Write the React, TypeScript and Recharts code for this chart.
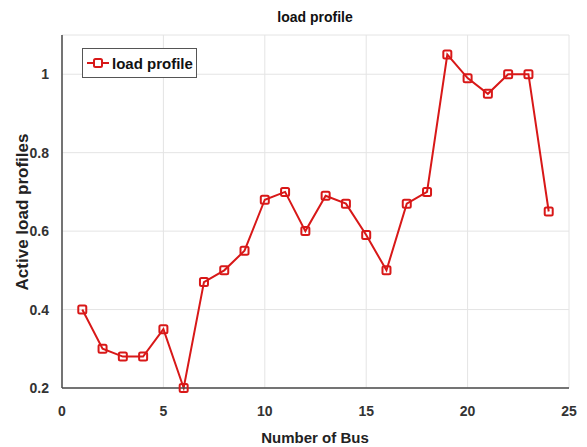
import { LineChart, Line, XAxis, YAxis, CartesianGrid, Legend } from 'recharts'

const buses = [1, 2, 3, 4, 5, 6, 7, 8, 9, 10, 11, 12, 13, 14, 15, 16, 17, 18, 19, 20, 21, 22, 23, 24]
const loadProfile = [0.4, 0.3, 0.28, 0.28, 0.35, 0.2, 0.47, 0.5, 0.55, 0.68, 0.7, 0.6, 0.69, 0.67, 0.59, 0.5, 0.67, 0.7, 1.05, 0.99, 0.95, 1.0, 1.0, 0.65]
const xTicks = [0, 5, 10, 15, 20, 25]
const yTicks = [0.2, 0.4, 0.6, 0.8, 1]

const data = buses.map((bus, i) => ({ bus, load: loadProfile[i] }))

const FONT = '"Liberation Sans", Arial, sans-serif'
const RED = '#d81818'
const AXIS = '#4a4a4a'
const labelStyle = { fontFamily: FONT, fontWeight: 'bold' as const, fill: '#222' }

// hollow square marker like matlab 's'
function SquareDot(props: any) {
  const { cx, cy } = props
  if (cx == null || cy == null) return null
  return <rect x={cx - 4} y={cy - 4} width={8} height={8} rx={1.5} fill="none" stroke={RED} strokeWidth={2} />
}

function LegendBox() {
  return (
    <svg style={{ position: 'absolute', left: 82, top: 48 }} width={118} height={31}>
      <rect x={0.5} y={0.5} width={114} height={29} fill="white" stroke="#555" />
      <line x1={5} y1={15} x2={27} y2={15} stroke={RED} strokeWidth={2} />
      <rect x={12} y={11} width={8} height={8} rx={1.5} fill="white" stroke={RED} strokeWidth={2} />
      <text x={30} y={20.5} style={{ ...labelStyle, fontSize: 15, fill: '#111' }}>
        load profile
      </text>
    </svg>
  )
}

export default function App() {
  const tick = { fontSize: 14, fontWeight: 'bold', fill: '#333', fontFamily: FONT }
  return (
    <div style={{ position: 'absolute', left: 0, top: 0, width: 587, height: 447, background: 'white' }}>
      <svg style={{ position: 'absolute', left: 0, top: 0 }} width={587} height={35}>
        <text x={315} y={22} textAnchor="middle" style={{ ...labelStyle, fontSize: 14, fill: '#111' }}>
          load profile
        </text>
      </svg>
      <LineChart width={587} height={447} data={data} margin={{ top: 35, right: 18, left: 0, bottom: 0 }}>
        <CartesianGrid stroke="#e4e4e4" />
        <XAxis
          dataKey="bus" type="number" domain={[0, 25]} ticks={xTicks}
          height={59} stroke={AXIS} strokeWidth={1.5} tickLine={false} tickMargin={12} tick={tick}
          label={{
            content: () => (
              <text x={315} y={443} textAnchor="middle" style={{ ...labelStyle, fontSize: 15 }}>
                Number of Bus
              </text>
            ),
          }}
        />
        <XAxis xAxisId="top" orientation="top" dataKey="bus" type="number" domain={[0, 25]} ticks={xTicks}
          height={0} stroke={AXIS} strokeWidth={1.5} tick={false} tickLine={false} />
        <YAxis
          type="number" domain={[0.2, 1.1]} ticks={yTicks}
          width={62} stroke={AXIS} strokeWidth={1.5} tickLine={false} tickMargin={7} tick={tick}
          label={{
            content: () => (
              <text x={0} y={0} transform="translate(28 212) rotate(-90)" textAnchor="middle"
                style={{ ...labelStyle, fontSize: 17 }}>
                Active load profiles
              </text>
            ),
          }}
        />
        <YAxis yAxisId="right" orientation="right" type="number" domain={[0.2, 1.1]} ticks={yTicks}
          width={0} stroke={AXIS} strokeWidth={1.5} tick={false} tickLine={false} />
        <Legend content={() => <LegendBox />} wrapperStyle={{ position: 'absolute', left: 0, top: 0 }} />
        <Line
          type="linear" dataKey="load" stroke={RED} strokeWidth={2}
          dot={<SquareDot />} activeDot={false} isAnimationActive={false}
        />
      </LineChart>
    </div>
  )
}
